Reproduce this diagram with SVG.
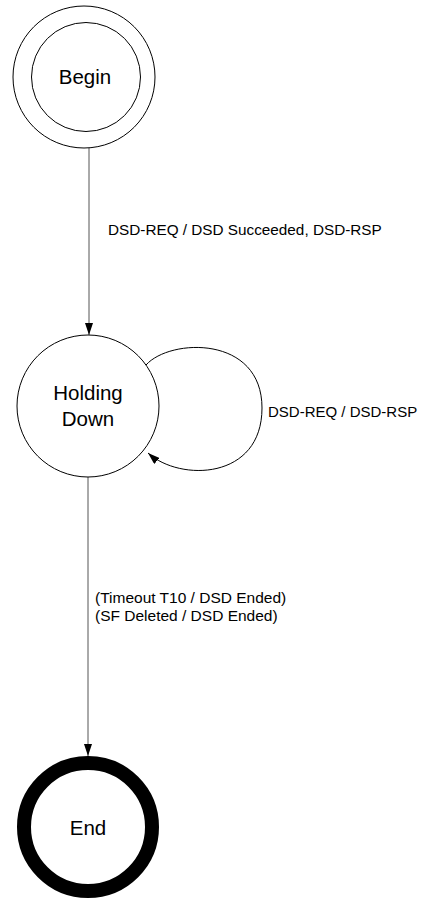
<svg xmlns="http://www.w3.org/2000/svg" width="422" height="900" viewBox="0 0 422 900">
<style>
  .node { fill: #fff; stroke: #000; stroke-width: 1; }
  .ntext { font-family: "Liberation Sans", Arial, sans-serif; font-size: 20.5px; fill: #000; text-anchor: middle; }
  .ltext { font-family: "Liberation Sans", Arial, sans-serif; font-size: 15px; fill: #000; }
  .edge { fill: none; stroke: #555; stroke-width: 1; }
  .loop { fill: none; stroke: #000; stroke-width: 1; }
</style>
<defs>
  <marker id="arrow" viewBox="0 0 12 8" refX="12" refY="4" markerWidth="12" markerHeight="8" markerUnits="userSpaceOnUse" orient="auto">
    <path d="M0,0 L12,4 L0,8 Z" fill="#000"/>
  </marker>
</defs>
<rect width="422" height="900" fill="#fff"/>
<g id="connectors">
  <line class="edge" x1="89" y1="148" x2="89" y2="335" marker-end="url(#arrow)"/>
  <path class="loop" d="M146,365 C170,338 262,335 262,408 C262,480 180,482 148,453" marker-end="url(#arrow)"/>
  <line class="edge" x1="88" y1="477" x2="88" y2="756" marker-end="url(#arrow)"/>
  <text class="ltext" x="108" y="235" style="font-size:15.3px">DSD-REQ / DSD Succeeded, DSD-RSP</text>
  <text class="ltext" x="268" y="417">DSD-REQ / DSD-RSP</text>
  <text class="ltext" x="95" y="603" style="font-size:15.5px">(Timeout T10 / DSD Ended)</text>
  <text class="ltext" x="95" y="621" style="font-size:15.5px">(SF Deleted / DSD Ended)</text>
</g>
<g id="begin">
  <circle class="node" cx="84" cy="77" r="71"/>
  <circle class="node" cx="86" cy="77" r="54.5"/>
  <text class="ntext" x="85" y="84">Begin</text>
</g>
<g id="holding-down">
  <circle class="node" cx="88" cy="406" r="71"/>
  <text class="ntext" x="88" y="400">Holding</text>
  <text class="ntext" x="88" y="426">Down</text>
</g>
<g id="end">
  <circle cx="88" cy="827" r="64" fill="#fff" stroke="#000" stroke-width="14"/>
  <text class="ntext" x="88" y="835">End</text>
</g>
</svg>
